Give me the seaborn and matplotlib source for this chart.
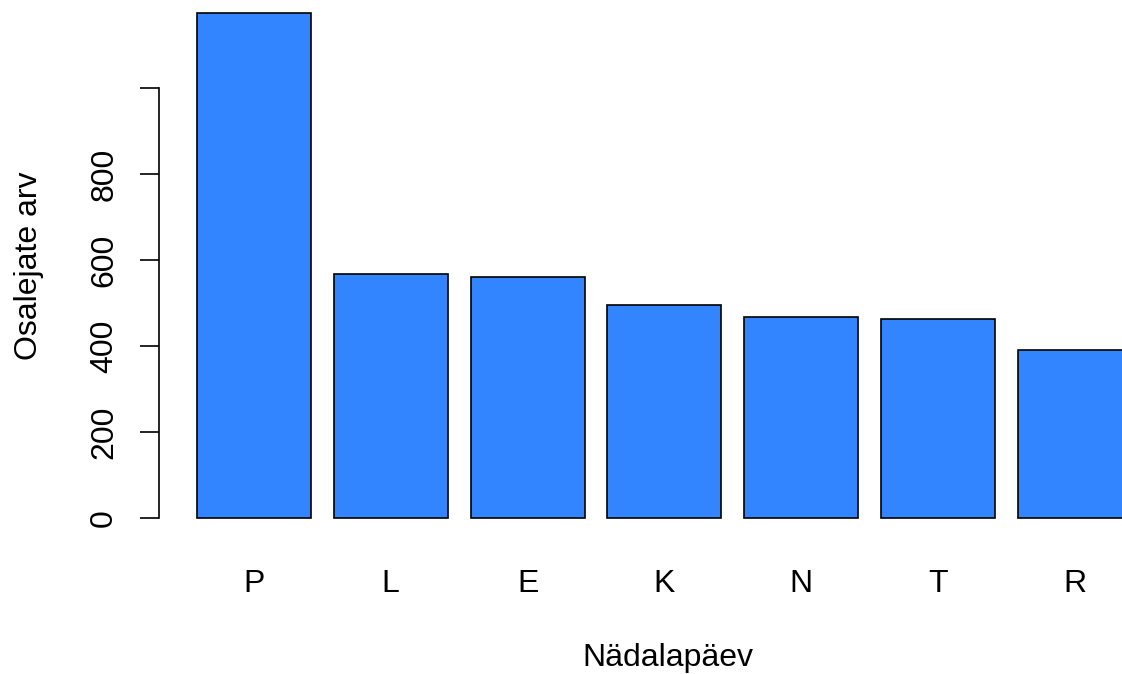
import numpy as np
import pandas as pd
import seaborn as sns
import matplotlib
matplotlib.use('Agg')
import matplotlib.pyplot as plt

# Andmed (loetud pildilt)
paevad = ['P', 'L', 'E', 'K', 'N', 'T', 'R']
osalejad = [1175, 567, 560, 495, 467, 463, 391]
y_ticks = [0, 200, 400, 600, 800, 1000]
y_tick_labels = ['0', '200', '400', '600', '800', '']

df = pd.DataFrame({'paev': paevad, 'arv': osalejad})

sns.set_style('white')
plt.rcParams['font.family'] = ['Liberation Sans', 'DejaVu Sans']
plt.rcParams['text.color'] = 'black'
plt.rcParams['axes.labelcolor'] = 'black'
plt.rcParams['xtick.color'] = 'black'
plt.rcParams['ytick.color'] = 'black'

W, H = 1122, 674
fig = plt.figure(figsize=(W / 100, H / 100), dpi=100)
# telje ala pikslites: vasak 159, parem 1122, ülemine 0, alumine 538
ax = fig.add_axes([159 / W, (H - 538) / H, (W - 159) / W, 538 / H])

sns.barplot(data=df, x='paev', y='arv', order=paevad, color='#3385FF',
            saturation=1, width=0.833, edgecolor='black', linewidth=1.2, ax=ax)

ax.set_xlim(-0.694, 6.344)
ax.set_ylim(-46.5, 1204.65)

for s in ['top', 'right', 'bottom']:
    ax.spines[s].set_visible(False)
ax.spines['left'].set_bounds(0, 1000)
ax.spines['left'].set_linewidth(1.2)
ax.spines['left'].set_color('black')

ax.set_yticks(y_ticks)
ax.set_yticklabels(y_tick_labels)
ax.tick_params(axis='y', left=True, direction='out', length=13.7, width=1.2,
               color='black', labelcolor='black', labelsize=23,
               labelrotation=90, pad=15)
for lab in ax.get_yticklabels():
    lab.set_va('center')
ax.tick_params(axis='x', length=0, labelsize=23, labelcolor='black', pad=22.5)

ax.set_xlabel('Nädalapäev', fontsize=23, color='black')
ax.xaxis.set_label_coords((668 - 159) / (W - 159), -(666 - 538) / 538)
ax.xaxis.label.set_va('baseline')
ax.set_ylabel('Osalejate arv', fontsize=23, color='black')
ax.yaxis.set_label_coords(-(159 - 37) / (W - 159), (538 - 265.5) / 538)
ax.yaxis.label.set_va('baseline')

fig.savefig('out.png', dpi=100)
